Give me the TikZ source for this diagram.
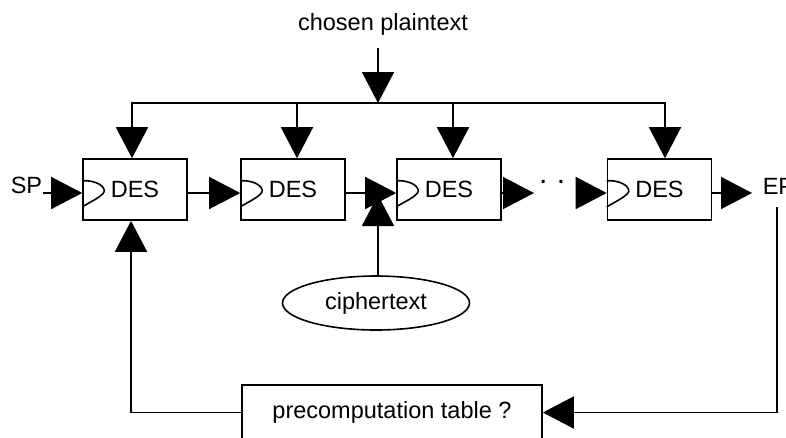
\documentclass[tikz,border=0pt]{standalone}
\usepackage{fontspec}
\setmainfont{Liberation Sans}
\usetikzlibrary{arrows.meta,shapes.geometric,calc}
\begin{document}
\begin{tikzpicture}[x=1pt,y=-1pt,line width=1.6pt,
  arr/.style={-{Triangle[length=31pt,width=32pt]}},
  lbl/.style={font=\fontsize{23.5}{28}\selectfont,inner sep=0pt},
  desbox/.style={draw,lbl,minimum width=104pt,minimum height=61pt},
  tabbox/.style={draw,lbl,minimum width=300pt,minimum height=55pt},
  cipher/.style={draw,lbl,ellipse,minimum width=187pt,minimum height=54pt}]
\useasboundingbox (0,0) rectangle (786,437);
\clip (0,0) rectangle (786,437);
% DES boxes
\node[desbox] (d1) at (135,189.5) {DES};
\node[desbox] (d2) at (293,189.5) {DES};
\node[desbox] (d3) at (449,189.5) {DES};
\node[desbox] (d4) at (659.5,189.5) {DES};
% clock marks
\foreach \d in {d1,d2,d3,d4}
  \draw ($(\d.west)+(0,-8.8)$) .. controls ($(\d.west)+(14,-9.5)$) and ($(\d.west)+(23,-3)$) .. ($(\d.west)+(22,2)$)
        .. controls ($(\d.west)+(20,7)$) and ($(\d.west)+(9,12)$) .. ($(\d.west)+(0,17.3)$);
% chosen plaintext and bus
\node[lbl,anchor=base] (cp) at (383,30) {chosen plaintext};
\coordinate (cpfrom) at (378,48);
\coordinate (bus) at (378,103);
\draw[arr] (cpfrom) -- (bus);
\coordinate (busL) at (132,103);
\coordinate (busR) at (665,103);
\coordinate (b2) at (297,103);
\coordinate (b3) at (453,103);
\draw[line cap=rect] (busL) -- (busR);
\draw[arr] (busL) -- (busL |- d1.north);
\draw[arr] (b2) -- (b2 |- d2.north);
\draw[arr] (b3) -- (b3 |- d3.north);
\draw[arr] (busR) -- (busR |- d4.north);
% chain
\node[lbl,anchor=base west] (sp) at (10,193) {SP};
\draw[arr] (sp.base east) -- (d1.west |- sp.base);
\draw[arr] ([yshift=-3.5pt]d1.east) -- ([yshift=-3.5pt]d2.west);
\draw[arr] ([yshift=-3.5pt]d2.east) -- ([yshift=-3.5pt]d3.west);
\coordinate (dL) at (534,193);
\draw[arr] ([yshift=-3.5pt]d3.east) -- (dL);
\node[font=\fontsize{30}{30}\selectfont,inner sep=0pt,anchor=base] (dots) at (561,183) {.\kern9.5pt.\kern9.5pt.};
\coordinate (dR) at (576,193);
\draw[arr] (dR) -- ([yshift=-3.5pt]d4.west);
\node[lbl,anchor=base west] (ep) at (762,194) {EP};
\coordinate (epin) at (752,193);
\draw[arr] ([yshift=-3.5pt]d4.east) -- (epin);
% ciphertext
\node[cipher] (ct) at (376,303) {ciphertext};
\coordinate (ctip) at (378,195);
\draw[arr] (ct.north -| ctip) -- (ctip);
% precomputation table and feedback
\node[tabbox] (tab) at (392,412.5) {precomputation table ?};
\coordinate (fbL) at (131,412.5);
\draw[arr] (tab.west) -- (fbL) -- (fbL |- d1.south);
\coordinate (epdown) at (777,207);
\draw[arr] (epdown) -- (epdown |- tab.east) -- (tab.east);
\end{tikzpicture}
\end{document}
